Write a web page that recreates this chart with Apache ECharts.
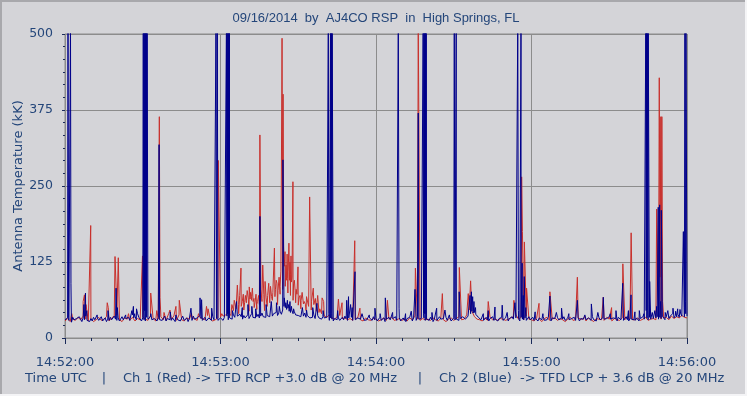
<!DOCTYPE html>
<html><head><meta charset="utf-8">
<script src="https://cdn.jsdelivr.net/npm/echarts@6/dist/echarts.min.js"></script>
<style>html,body{margin:0;padding:0;background:#d4d4d8;}#c{width:747px;height:396px;}</style>
</head><body><div id="c"></div>
<script>
// Tick labels
const xTickLabels = ['14:52:00', '14:53:00', '14:54:00', '14:55:00', '14:56:00'];
const yTickLabels = ['0', '125', '250', '375', '500'];

// Ch 1 (red) baseline readings, one per second from 14:52:00 (kK)
const redBase = [
  28,32,27,31,29,34,30,36,31,28, 32,27,30,34,29,31,35,28,33,36,
  38,30,27,33,31,29,34,28,32,30, 34,31,29,37,32,28,31,35,30,29,
  40,31,36,29,38,30,28,33,31,35, 31,29,34,32,30,37,31,28,30,33,
  34,36,38,42,37,45,48,40,52,46, 58,44,62,50,47,55,60,45,52,58,
  62,68,55,72,80,85,74,70,62,58, 54,48,56,45,52,46,55,44,42,40,
  37,34,38,33,31,35,37,32,33,30, 32,29,31,34,30,28,33,30,29,32,
  31,28,30,33,29,31,34,29,30,32, 29,31,28,33,30,36,31,29,32,30,
  31,29,33,30,28,32,30,27,31,33, 29,32,35,30,31,38,46,44,35,31,
  30,28,33,29,34,30,31,29,32,31, 29,31,33,35,38,31,34,30,36,31,
  30,28,33,31,27,32,34,29,31,33, 29,32,30,27,31,34,29,30,33,31,
  31,28,33,30,27,32,31,30,29,34, 31,28,32,30,29,33,30,35,31,30,
  30,33,29,31,34,29,31,32,30,35, 31,33,34,30,36,32,35,33,37,34,
  33
];
// Ch 2 (blue) baseline readings, one per half second from 14:52:00 (kK)
const blueBase = [
  30,27,33,29,31,26,34,30,28,32, 29,35,31,27,33,30,36,29,31,27,
  32,28,34,30,27,33,29,31,35,28, 30,33,27,31,29,34,30,28,36,31,
  29,33,28,31,35,30,27,32,30,34, 29,31,38,33,36,30,40,34,31,28,
  33,30,28,34,31,29,35,30,27,32, 31,28,34,30,33,29,31,36,28,32,
  35,30,29,33,31,27,34,30,32,28, 30,35,29,31,33,27,32,30,29,36,
  31,28,33,30,37,32,29,31,34,28, 30,33,31,29,35,30,28,32,29,31,
  33,30,29,34,31,36,30,33,35,31, 38,34,32,36,33,39,35,31,37,33,
  35,38,32,36,40,34,37,33,35,39, 33,36,41,35,38,34,37,40,35,38,
  36,40,38,42,37,41,44,39,46,52, 50,47,49,44,42,46,40,43,38,41,
  37,40,35,38,36,41,34,37,39,33, 36,34,38,32,35,37,33,36,31,35,
  33,30,34,31,29,33,31,28,32,35, 30,33,29,31,34,30,36,32,29,33,
  31,34,29,32,30,27,33,30,31,28, 34,29,32,30,27,33,31,29,35,30,
  32,28,31,34,29,30,33,27,31,29, 34,30,28,32,30,35,29,31,33,28,
  30,33,29,27,32,30,34,31,28,33, 30,29,35,31,28,32,30,33,29,31,
  32,29,34,30,27,31,33,29,30,35, 31,28,32,30,34,29,31,33,28,30,
  33,30,31,34,29,32,30,35,33,31, 34,36,38,40,44,41,42,39,36,34,
  32,30,33,29,31,34,30,28,32,30, 35,29,31,33,28,32,30,34,29,31,
  33,30,28,32,30,35,31,29,33,30, 32,28,34,31,30,33,29,31,35,30,
  31,34,29,32,30,28,33,31,30,35, 29,32,30,34,31,28,33,30,32,29,
  34,30,28,32,31,35,29,31,33,30, 28,32,30,34,29,31,33,28,32,30,
  31,34,30,28,33,31,29,35,30,32, 28,31,34,30,29,33,31,28,32,30,
  35,31,29,33,30,32,28,34,31,30, 33,29,31,35,30,28,32,31,34,30,
  29,33,31,28,32,30,35,31,29,33, 30,34,31,28,32,30,33,35,31,34,
  32,36,33,30,35,38,32,36,34,40, 33,37,35,39,34,41,36,38,35,40,
  36
];

// Spikes: [seconds after 14:52:00, kK]; 520 = off scale
const redSpikes = [
  [2.6,40],[7.0,60],[7.5,71],[8.1,55],[9.92,185],[16.3,58],[16.7,50],
  [19.3,134],[19.9,60],[20.57,132],[24.5,40],[29.9,135],
  [33.07,74],[35.4,45],[36.4,364],[36.66,67],[38.2,42],[40.5,46],[42.8,52],[44.1,62],
  [48.8,41],[51.5,40],[54.6,52],[55.2,48],[59.15,292],[60.5,40],
  [64.4,55],[65.3,62],[66.5,87],[66.9,55],[67.4,70],[67.9,115],[68.4,60],[68.8,72],
  [69.3,58],[69.6,70],[70.0,62],[70.3,78],[70.7,66],[71.1,84],[71.4,64],[71.6,75],[72.0,68],[72.3,82],[72.6,60],[72.9,65],[73.3,58],[73.7,72],[74.0,55],[74.3,60],
  [74.7,70],[75.2,334],[75.6,80],[76.0,65],[76.3,120],[76.7,72],[77.2,93],[77.6,66],[78.2,70],[78.6,90],[79.3,85],[79.7,68],[80.2,75],
  [80.8,148],[81.2,80],[81.5,95],[81.8,90],[82.2,78],[82.6,100],[83.0,85],[83.3,110],
  [83.75,493],[83.95,200],[84.15,401],[84.35,150],[84.6,118],
  [84.9,142],[85.1,100],[85.3,120],[85.5,95],[85.7,138],[85.9,98],[86.1,110],[86.25,130],[86.4,156],[86.6,95],[86.8,125],[87.0,105],[87.2,135],[87.4,92],[87.6,100],
  [87.95,257],[88.2,90],[88.5,95],[88.8,78],[89.2,80],[89.5,72],[89.9,117],[90.3,66],[90.7,70],[91.1,62],[91.5,75],[92.0,58],[92.3,60],[92.8,55],[93.2,68],
  [94.4,232],[95.1,60],[95.8,82],[96.2,56],[96.6,65],[97.1,52],[97.5,70],[98.3,48],[99.2,66],[99.8,60],
  [105.5,64],[106.9,58],[111.8,160],[113.8,49],[124.4,62],
  [135.2,115],[136.3,520],
  [145.6,73],[152.15,116],[155.6,73],[156.5,94],[163.3,60],[173.2,62],
  [176.2,265],[176.5,175],[177.25,158],[178.1,82],
  [182.9,57],[187.1,76],[197.7,100],[200.6,36],[207.7,67],[210.9,50],
  [215.25,122],[218.45,173],
  [228.3,212],[229.3,428],[229.6,100],[229.9,364],[230.1,120],[230.3,364],[230.6,60]
];
const blueSpikes = [
  [1.16,520],[1.4,34],[2.12,520],[2.3,90],[2.45,36],
  [7.3,55],[7.9,74],[8.4,45],[12.4,38],[16.6,45],[19.7,82],[20.2,50],[23.4,38],
  [25.8,45],[26.4,52],[26.9,40],[27.6,48],
  [30.2,520],[30.35,45],[30.52,520],[30.65,45],[30.8,520],[30.95,45],[31.1,520],[31.25,45],[31.4,520],[31.55,45],[31.7,520],
  [33.1,40],[36.3,318],[38.6,37],[40.6,43],[42.8,38],[45.4,36],[48.6,49],
  [52.1,66],[52.7,63],[56.6,49],
  [58.26,520],[58.45,40],[58.77,520],
  [62.3,520],[62.45,40],[62.6,520],[62.75,40],[62.9,520],[63.05,40],[63.2,520],[63.35,40],[63.45,520],
  [64.6,45],[66.2,60],[68.4,50],[70.6,55],[72.1,52],[73.6,48],
  [75.2,200],[77.6,55],[79.6,60],[81.6,58],[82.7,52],
  [84.1,293],
  [84.6,66],[85.2,58],[85.8,62],[86.3,55],[86.8,60],[87.4,52],[88.2,48],[88.8,45],[89.6,42],
  [91.6,50],[93.2,46],[95.6,50],[97.2,57],[99.6,45],
  [101.6,520],[101.8,40],[102.45,520],[102.6,40],[102.8,520],[102.95,40],[103.1,520],
  [105.2,45],[108.7,62],[109.4,68],[110.2,55],[110.8,50],[111.9,109],
  [114.6,40],[117.4,38],[119.6,49],[121.6,40],[123.6,66],[126.4,42],
  [128.6,520],[128.9,49],[131.4,40],[133.6,44],
  [135.05,80],[136.3,370],
  [138.2,520],[138.35,40],[138.52,520],[138.65,40],[138.8,520],[138.95,40],[139.1,520],[139.25,40],[139.4,520],
  [141.6,42],[143.4,49],[146.6,46],[148.3,38],
  [150.2,520],[150.45,40],[150.95,520],[152.1,76],
  [156.3,70],[156.8,76],[157.3,68],[157.8,60],[158.4,50],[158.9,40],
  [161.4,40],[163.3,45],[165.9,51],[168.7,54],[170.6,42],[173.6,58],
  [174.7,520],[174.95,45],[175.95,520],[176.4,123],[176.8,70],[177.2,101],[177.8,50],
  [181.4,43],[184.4,40],[187.1,69],[189.6,42],[191.6,49],
  [194.4,40],[197.7,62],[200.6,38],[203.1,56],[205.6,42],[207.7,67],[210.4,40],[212.6,45],
  [215.2,90],[217.4,45],[218.4,71],[219.9,43],[221.6,45],[223.4,40],
  [224.1,520],[224.25,45],[224.4,520],[224.55,45],[224.7,520],[224.85,45],[225.05,520],
  [225.6,93],[226.6,42],[227.6,45],[228.3,52],
  [228.9,215],[229.2,60],[229.45,219],[229.8,60],[230.1,210],
  [231.6,42],[232.6,45],[234.6,49],[235.6,44],[236.4,48],[237.3,47],
  [238.6,175],[238.9,50],[239.2,520],[239.4,60],[239.6,520]
];

function merge(base, step, spikes) {
  const pts = base.map((v, i) => [i * step, v]).concat(spikes);
  pts.sort((a, b) => a[0] - b[0]);
  return pts;
}

const TXT = '#24467a';
const TICK = '#1a2a5a';
const GRIDC = '#8c8c8c';
const chart = echarts.init(document.getElementById('c'), null, {renderer: 'canvas'});
chart.setOption({
  animation: false,
  backgroundColor: '#d4d4d8',
  grid: {left: 65, right: 60, top: 34, bottom: 58, show: true, borderColor: GRIDC, borderWidth: 1, backgroundColor: 'transparent'},
  xAxis: {
    type: 'value', min: 0, max: 240, interval: 60, offset: 5,
    axisLine: {show: false},
    axisTick: {show: true, length: 6, lineStyle: {color: TICK}},
    minorTick: {show: true, splitNumber: 6, length: 3, lineStyle: {color: TICK}},
    axisLabel: {margin: 13, color: TXT, fontFamily: 'DejaVu Sans', fontSize: 13,
      formatter: v => xTickLabels[Math.round(v / 60)]},
    splitLine: {show: true, lineStyle: {color: GRIDC, width: 1}}
  },
  yAxis: {
    type: 'value', min: 0, max: 500, interval: 125, offset: 4,
    axisLine: {show: false},
    axisTick: {show: true, length: 3, lineStyle: {color: TICK}},
    minorTick: {show: true, splitNumber: 6, length: 2, lineStyle: {color: TICK}},
    axisLabel: {margin: 8, color: TXT, fontFamily: 'DejaVu Sans', fontSize: 12.5,
      formatter: v => yTickLabels[Math.round(v / 125)]},
    splitLine: {show: true, lineStyle: {color: GRIDC, width: 1}}
  },
  series: [
    {type: 'line', data: merge(redBase, 1, redSpikes), showSymbol: false, symbol: 'none',
     lineStyle: {color: '#c8302c', width: 1}, itemStyle: {color: '#c8302c'}, z: 2, clip: true},
    {type: 'line', data: merge(blueBase, 0.5, blueSpikes), showSymbol: false, symbol: 'none',
     lineStyle: {color: '#00008a', width: 1}, itemStyle: {color: '#00008a'}, z: 3, clip: true}
  ],
  graphic: [
    {type: 'rect', shape: {x: 0, y: 0, width: 747, height: 2}, style: {fill: '#a8a8ac'}, silent: true},
    {type: 'rect', shape: {x: 0, y: 0, width: 2, height: 396}, style: {fill: '#a8a8ac'}, silent: true},
    {type: 'rect', shape: {x: 0, y: 394, width: 747, height: 2}, style: {fill: '#f4f4f6'}, silent: true},
    {type: 'rect', shape: {x: 745, y: 0, width: 2, height: 396}, style: {fill: '#f4f4f6'}, silent: true},
    {type: 'text', x: 376, y: 18, style: {text: '09/16/2014  by  AJ4CO RSP  in  High Springs, FL', fill: TXT,
      font: '13px "Liberation Sans"', align: 'center', verticalAlign: 'middle'}},
    {type: 'text', x: 19, y: 186, rotation: Math.PI / 2, style: {text: 'Antenna Temperature (kK)', fill: TXT,
      font: '13px "DejaVu Sans"', align: 'center', verticalAlign: 'middle'}},
    {type: 'text', x: 25, y: 379, style: {text: 'Time UTC', fill: TXT, font: '13px "DejaVu Sans"', align: 'left', verticalAlign: 'middle'}},
    {type: 'text', x: 104, y: 379, style: {text: '|', fill: TXT, font: '13px "DejaVu Sans"', align: 'center', verticalAlign: 'middle'}},
    {type: 'text', x: 123, y: 379, style: {text: 'Ch 1 (Red) -> TFD RCP +3.0 dB @ 20 MHz', fill: TXT, font: '13px "DejaVu Sans"', align: 'left', verticalAlign: 'middle'}},
    {type: 'text', x: 420, y: 379, style: {text: '|', fill: TXT, font: '13px "DejaVu Sans"', align: 'center', verticalAlign: 'middle'}},
    {type: 'text', x: 439, y: 379, style: {text: 'Ch 2 (Blue)  -> TFD LCP + 3.6 dB @ 20 MHz', fill: TXT, font: '13px "DejaVu Sans"', align: 'left', verticalAlign: 'middle'}}
  ]
});
</script></body></html>
